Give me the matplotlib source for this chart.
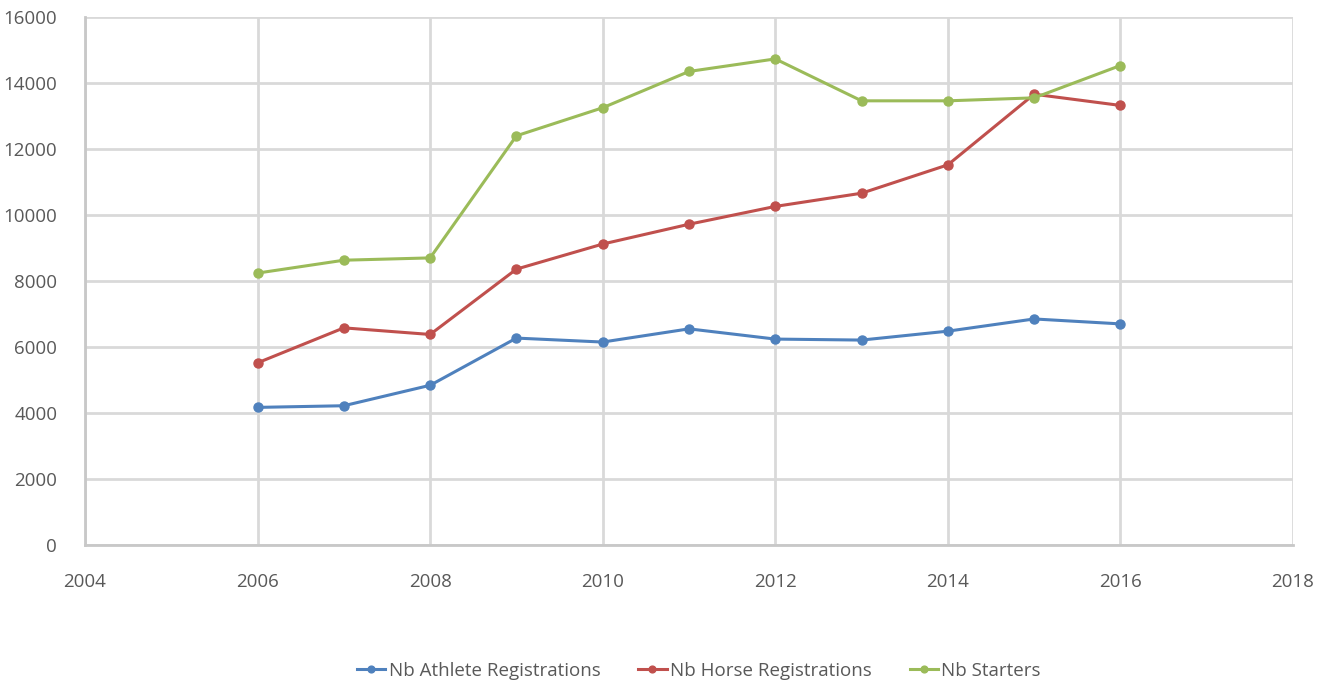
import matplotlib
matplotlib.use("Agg")
import matplotlib.pyplot as plt

years = [2006, 2007, 2008, 2009, 2010, 2011, 2012, 2013, 2014, 2015, 2016]
athletes = [4170, 4220, 4840, 6270, 6150, 6550, 6240, 6210, 6480, 6850, 6700]
horses = [5520, 6580, 6380, 8360, 9120, 9720, 10260, 10660, 11520, 13660, 13320]
starters = [8240, 8630, 8700, 12400, 13250, 14350, 14730, 13460, 13460, 13550, 14530]

series = [
    ("Nb Athlete Registrations", athletes, "#4f81bd"),
    ("Nb Horse Registrations", horses, "#c0504d"),
    ("Nb Starters", starters, "#9bbb59"),
]

plt.rcParams["font.family"] = ["Open Sans", "DejaVu Sans"]
grey = "#595959"
grid = "#d9d9d9"

fig = plt.figure(figsize=(13.19, 6.83), dpi=100)
ax = fig.add_axes([85 / 1319, 1 - 545 / 683, (1293 - 85) / 1319, (545 - 17) / 683])

for name, vals, col in series:
    ax.plot(years, vals, color=col, lw=2.2, marker="o", ms=6.5, label=name)

ax.set_xlim(2004, 2018)
ax.set_ylim(0, 16000)
ax.set_xticks(range(2004, 2019, 2))
ax.set_yticks(range(0, 16001, 2000))
ax.grid(True, color=grid, lw=2)
ax.set_axisbelow(True)
for s in ["top", "right"]:
    ax.spines[s].set_visible(False)
for s in ["left", "bottom"]:
    ax.spines[s].set_color("#c8c8c8")
    ax.spines[s].set_linewidth(2)
ax.tick_params(length=0, colors=grey, labelsize=13.5)
ax.tick_params(axis="x", pad=20)
ax.tick_params(axis="y", pad=20)

fig.legend(loc="center", bbox_to_anchor=(0.53, 1 - 671 / 683), ncol=3, frameon=False,
           fontsize=13.5, labelcolor=grey, handlelength=1.5, columnspacing=2.0,
           handletextpad=0.2, markerscale=0.75, borderpad=0.1)

fig.savefig("out.png", dpi=100)
